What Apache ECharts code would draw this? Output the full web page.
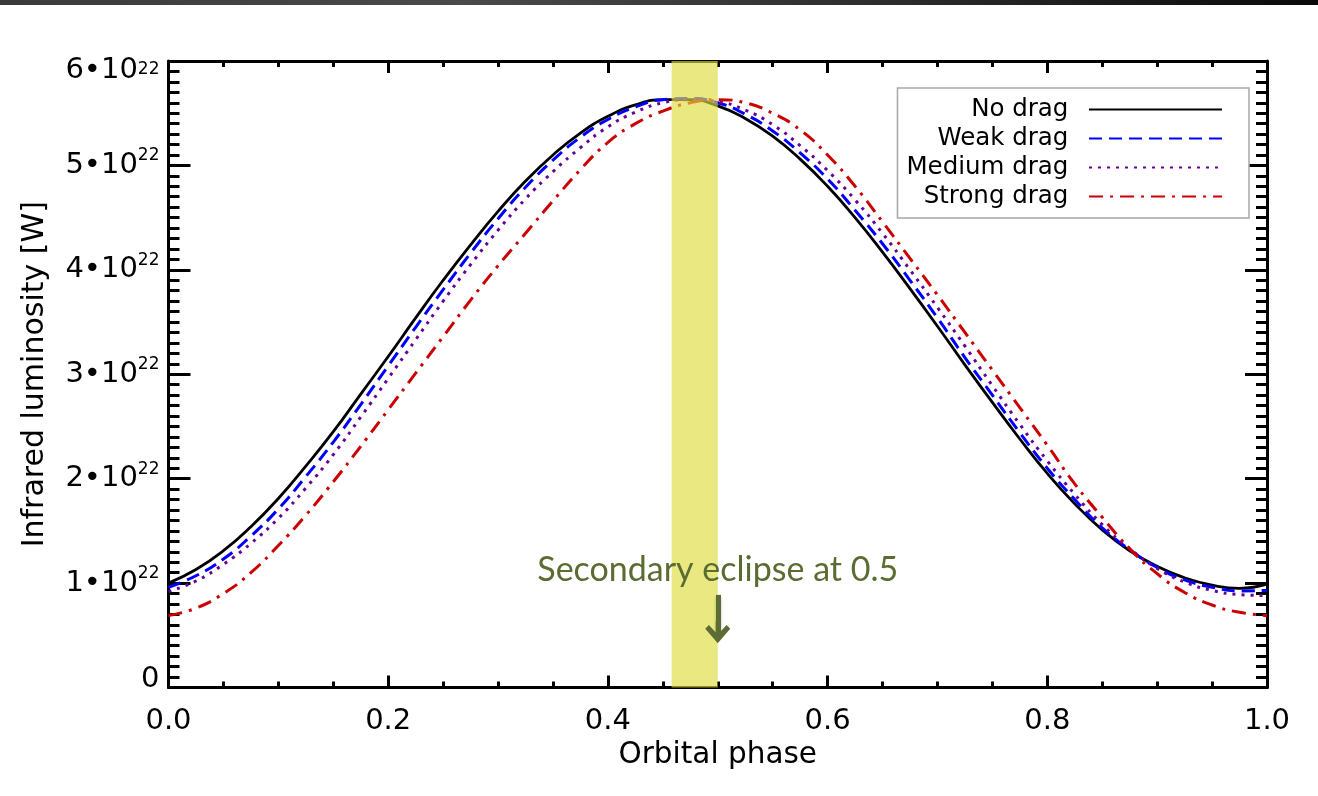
<!DOCTYPE html>
<html>
<head>
<meta charset="utf-8">
<script src="https://cdn.jsdelivr.net/npm/echarts@6/dist/echarts.min.js"></script>
<style>
  html, body { margin: 0; padding: 0; background: #fff; }
  #chart { width: 1318px; height: 796px; }
</style>
</head>
<body>
<div id="chart"></div>
<script>
// ---- data (luminosity in units of 1e22 W) ----
const phase = [0, 0.025, 0.05, 0.075, 0.1, 0.125, 0.15, 0.175, 0.2, 0.225, 0.25, 0.275, 0.3, 0.325, 0.35, 0.375, 0.4, 0.425, 0.45, 0.475, 0.5,
               0.525, 0.55, 0.575, 0.6, 0.625, 0.65, 0.675, 0.7, 0.725, 0.75, 0.775, 0.8, 0.825, 0.85, 0.875, 0.9, 0.925, 0.95, 0.975, 1.0];
const noDrag = [1.00, 1.13, 1.31, 1.54, 1.81, 2.12, 2.45, 2.81, 3.17, 3.54, 3.90, 4.24, 4.56, 4.85, 5.10, 5.31, 5.47, 5.58, 5.63, 5.63, 5.57,
                5.45, 5.28, 5.06, 4.80, 4.50, 4.17, 3.82, 3.46, 3.09, 2.73, 2.38, 2.05, 1.76, 1.51, 1.31, 1.16, 1.05, 0.98, 0.95, 0.99];
const weakDrag = [0.96, 1.07, 1.23, 1.45, 1.71, 2.02, 2.35, 2.71, 3.08, 3.45, 3.81, 4.16, 4.49, 4.79, 5.05, 5.27, 5.44, 5.56, 5.63, 5.64, 5.60,
                  5.49, 5.33, 5.12, 4.87, 4.57, 4.25, 3.90, 3.54, 3.16, 2.80, 2.44, 2.10, 1.80, 1.53, 1.32, 1.15, 1.03, 0.96, 0.925, 0.93];
const mediumDrag = [0.92, 1.02, 1.18, 1.38, 1.62, 1.91, 2.23, 2.59, 2.96, 3.33, 3.70, 4.05, 4.38, 4.68, 4.94, 5.17, 5.37, 5.51, 5.60, 5.63, 5.61,
                    5.53, 5.39, 5.19, 4.95, 4.67, 4.35, 4.00, 3.64, 3.27, 2.89, 2.52, 2.17, 1.85, 1.56, 1.33, 1.14, 1.01, 0.93, 0.89, 0.88];
const strongDrag = [0.69, 0.76, 0.90, 1.10, 1.36, 1.65, 1.97, 2.31, 2.66, 3.01, 3.36, 3.71, 4.04, 4.35, 4.66, 4.96, 5.22, 5.40, 5.52, 5.60, 5.63,
                    5.60, 5.50, 5.34, 5.10, 4.80, 4.46, 4.11, 3.76, 3.40, 3.04, 2.68, 2.32, 1.95, 1.63, 1.33, 1.09, 0.91, 0.79, 0.72, 0.69];
const seriesNames = ['No drag', 'Weak drag', 'Medium drag', 'Strong drag'];
const eclipseBand = [0.458, 0.5];          // shaded phase interval
const arrowPhase = 0.5;
const arrowFromTo = [0.887, 0.53];          // arrow start / end (1e22 W)
const annotation = 'Secondary eclipse at 0.5';
const yExponent = '22';

const font = 'DejaVu Sans';
const pair = ys => phase.map((p, i) => [p, ys[i]]);

const chart = echarts.init(document.getElementById('chart'), null, { renderer: 'canvas' });

const tickStyle = { color: '#000', width: 3 };
const xAxisBase = {
  type: 'value', min: 0, max: 1, interval: 0.2,
  axisLine: { show: true, onZero: false, lineStyle: { color: '#000', width: 3 } },
  axisTick: { show: true, inside: true, length: 12, lineStyle: tickStyle },
  minorTick: { show: true, splitNumber: 4, length: 6, lineStyle: tickStyle },
  splitLine: { show: false }, minorSplitLine: { show: false }
};
const yAxisBase = {
  type: 'value', min: 0, max: 6, interval: 1,
  axisLine: { show: true, onZero: false, lineStyle: { color: '#000', width: 3 } },
  axisTick: { show: true, inside: true, length: 22, lineStyle: tickStyle },
  minorTick: { show: true, splitNumber: 10, length: 11, lineStyle: tickStyle },
  splitLine: { show: false }, minorSplitLine: { show: false }
};

const lineSeries = (name, ys, color, type, width) => ({
  name, type: 'line', data: pair(ys), smooth: true, symbol: 'none', showSymbol: false,
  lineStyle: { color, width, type, cap: 'butt' }, itemStyle: { color },
  emphasis: { disabled: true }, silent: true
});

const series = [
  lineSeries(seriesNames[0], noDrag, '#000000', 'solid', 2.8),
  lineSeries(seriesNames[1], weakDrag, '#0000ff', [13, 7], 3),
  lineSeries(seriesNames[2], mediumDrag, '#660099', [3, 6], 3),
  lineSeries(seriesNames[3], strongDrag, '#cc0000', [14, 7, 3, 7], 3)
];
series[3].markArea = {
  silent: true, z: 10,
  itemStyle: { color: 'rgba(222,220,60,0.65)' },
  data: [[{ xAxis: eclipseBand[0] }, { xAxis: eclipseBand[1] }]]
};
series[3].markLine = {
  silent: true, z: 12, animation: false,
  symbol: ['none', 'path://M12,0 L24,13 L20.5,16.5 L14,10 L14,20 L10,20 L10,10 L3.5,16.5 L0,13 Z'],
  symbolSize: [25, 22],
  lineStyle: { color: '#5b6d34', width: 5, type: 'solid', shadowBlur: 3, shadowColor: 'rgba(0,0,0,0.25)', shadowOffsetY: 2 },
  label: {
    show: true, position: 'start', distance: 8, formatter: annotation,
    color: '#5a6c32', fontFamily: 'Lato', fontSize: 34
  },
  emphasis: { disabled: true },
  data: [[{ coord: [arrowPhase, arrowFromTo[0]] }, { coord: [arrowPhase, arrowFromTo[1]] }]]
};

const option = {
  animation: false,
  backgroundColor: '#ffffff',
  grid: { left: 168.5, right: 51, top: 61, bottom: 108.5, containLabel: false },
  graphic: [{
    type: 'rect', left: 0, top: 0, z: 100,
    shape: { width: 1318, height: 5 },
    style: {
      fill: new echarts.graphic.LinearGradient(0, 0, 1, 0, [
        { offset: 0, color: '#3a3a3a' }, { offset: 0.35, color: '#4a4a4a' },
        { offset: 0.7, color: '#2a2a2a' }, { offset: 1, color: '#0a0a0a' }])
    }
  }],
  legend: {
    show: true, orient: 'vertical', right: 69, top: 88, align: 'right',
    itemWidth: 133, itemHeight: 14, itemGap: 4,
    padding: [9, 26, 9, 9],
    borderColor: '#a8a8a8', borderWidth: 1.5, backgroundColor: '#ffffff',
    selectedMode: false,
    itemStyle: { opacity: 0, color: 'rgba(0,0,0,0)', borderWidth: 0 },
    formatter: n => n + '  ',
    textStyle: { fontFamily: font, fontSize: 24.5, lineHeight: 24, color: '#000' },
    data: seriesNames
  },
  xAxis: [
    Object.assign({}, xAxisBase, {
      position: 'bottom',
      name: 'Orbital phase', nameLocation: 'middle', nameGap: 53,
      nameTextStyle: { fontFamily: font, fontSize: 29.5, color: '#000' },
      axisLabel: { show: true, margin: 19, fontFamily: font, fontSize: 29, color: '#000',
                   formatter: v => v.toFixed(1) }
    }),
    Object.assign({}, xAxisBase, { position: 'top', axisLabel: { show: false } })
  ],
  yAxis: [
    Object.assign({}, yAxisBase, {
      position: 'left',
      name: 'Infrared luminosity [W]', nameLocation: 'middle', nameGap: 118,
      nameTextStyle: { fontFamily: font, fontSize: 30, color: '#000' },
      axisLabel: {
        show: true, margin: 9, color: '#000', fontFamily: font,
        formatter: v => v === 0 ? '{z|0}' : (v === 6 ? '{tm|' + v + '•10}{ts|' + yExponent + '}' : '{m|' + v + '•10}{s|' + yExponent + '}'),
        rich: {
          m: { fontFamily: font, fontSize: 29, lineHeight: 36, color: '#000' },
          s: { fontFamily: font, fontSize: 17, lineHeight: 17, verticalAlign: 'top', color: '#000' },
          tm: { fontFamily: font, fontSize: 29, lineHeight: 36, padding: [18, 0, 0, 0], color: '#000' },
          ts: { fontFamily: font, fontSize: 17, lineHeight: 17, verticalAlign: 'top', padding: [18, 0, 0, 0], color: '#000' },
          z: { fontFamily: font, fontSize: 29, lineHeight: 29, padding: [0, 0, 17, 0], color: '#000' }
        }
      }
    }),
    Object.assign({}, yAxisBase, { position: 'right', axisLabel: { show: false } })
  ],
  series
};
chart.setOption(option);
</script>
</body>
</html>
